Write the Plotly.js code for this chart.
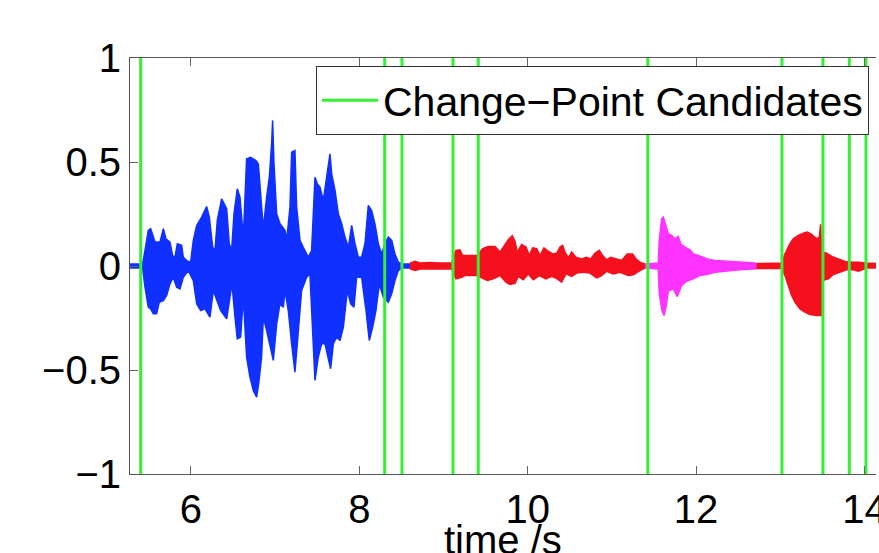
<!DOCTYPE html>
<html>
<head>
<meta charset="utf-8">
<script src="https://cdn.plot.ly/plotly-3.0.1.min.js"></script>
<style>
  html, body { margin: 0; padding: 0; overflow: hidden; background: #fff; }
  #chart { width: 879px; height: 553px; }
</style>
</head>
<body>
<div id="chart"></div>
<script>
// Change-point candidate times (s)
const changePoints = [5.404, 8.302, 8.507, 9.113, 9.413, 11.427, 13.02, 13.507, 13.82, 14.018];
const xTicks = [6, 8, 10, 12, 14];
const yTicks = [-1, -0.5, 0, 0.5, 1];
const xLabel = 'time /s';
const legendLabel = 'Change\u2212Point Candidates';

// Segment 1 (blue) envelope
const blueUpT = [5.277, 5.427, 5.455, 5.494, 5.522, 5.546, 5.574, 5.633, 5.673, 5.704,
                 5.752, 5.783, 5.811, 5.839, 5.890, 5.910, 5.950, 5.997, 6.029, 6.069,
                 6.128, 6.187, 6.219, 6.259, 6.286, 6.314, 6.365, 6.425, 6.456, 6.484,
                 6.512, 6.551, 6.583, 6.623, 6.662, 6.710, 6.773, 6.801, 6.829, 6.860,
                 6.900, 6.932, 6.959, 6.971, 6.987, 7.019, 7.058, 7.090, 7.118, 7.138,
                 7.177, 7.197, 7.236, 7.256, 7.296, 7.335, 7.395, 7.434, 7.474, 7.502,
                 7.533, 7.573, 7.613, 7.652, 7.672, 7.712, 7.751, 7.791, 7.830, 7.870,
                 7.910, 7.949, 7.989, 8.028, 8.068, 8.107, 8.147, 8.186, 8.226, 8.266,
                 8.305, 8.345, 8.385, 8.424, 8.464, 8.503, 8.602];
const blueUpV = [0.010, 0.010, 0.075, 0.171, 0.179, 0.147, 0.115, 0.115, 0.179, 0.131,
                 0.115, 0.050, 0.042, 0.107, 0.099, 0.042, 0.026, 0.018, 0.123, 0.195,
                 0.235, 0.286, 0.235, 0.090, 0.074, 0.219, 0.323, 0.275, 0.107, 0.074,
                 0.251, 0.371, 0.331, 0.139, 0.515, 0.523, 0.507, 0.491, 0.331, 0.180,
                 0.331, 0.427, 0.587, 0.700, 0.491, 0.251, 0.203, 0.187, 0.171, 0.123,
                 0.283, 0.547, 0.555, 0.283, 0.123, 0.090, 0.042, 0.074, 0.427, 0.395,
                 0.379, 0.315, 0.443, 0.539, 0.443, 0.363, 0.251, 0.203, 0.139, 0.090,
                 0.195, 0.107, 0.042, 0.042, 0.107, 0.291, 0.267, 0.203, 0.107, 0.058,
                 0.107, 0.139, 0.123, 0.058, 0.018, 0.010, 0.010];
const blueLoT = [5.277, 5.427, 5.455, 5.494, 5.522, 5.554, 5.593, 5.625, 5.673, 5.712,
                 5.752, 5.791, 5.831, 5.871, 5.910, 5.970, 6.029, 6.069, 6.116, 6.167,
                 6.227, 6.266, 6.306, 6.353, 6.425, 6.464, 6.488, 6.524, 6.551, 6.591,
                 6.623, 6.662, 6.702, 6.741, 6.781, 6.805, 6.840, 6.860, 6.900, 6.940,
                 6.979, 7.019, 7.058, 7.098, 7.118, 7.157, 7.197, 7.236, 7.264, 7.315,
                 7.375, 7.414, 7.434, 7.474, 7.513, 7.553, 7.593, 7.632, 7.660, 7.692,
                 7.731, 7.771, 7.811, 7.858, 7.898, 7.937, 7.969, 8.028, 8.080, 8.119,
                 8.159, 8.198, 8.238, 8.285, 8.345, 8.385, 8.424, 8.464, 8.503, 8.602];
const blueLoV = [-0.010, -0.010, -0.102, -0.198, -0.206, -0.230, -0.230, -0.174, -0.166, -0.142,
                 -0.086, -0.054, -0.102, -0.110, -0.054, -0.022, -0.070, -0.182, -0.214, -0.206,
                 -0.246, -0.118, -0.158, -0.214, -0.254, -0.150, -0.086, -0.246, -0.350, -0.342,
                 -0.150, -0.438, -0.534, -0.598, -0.630, -0.566, -0.438, -0.246, -0.310, -0.374,
                 -0.454, -0.278, -0.182, -0.198, -0.118, -0.214, -0.374, -0.510, -0.374, -0.118,
                 -0.054, -0.038, -0.150, -0.550, -0.438, -0.374, -0.374, -0.438, -0.494, -0.374,
                 -0.342, -0.358, -0.294, -0.118, -0.182, -0.198, -0.054, -0.054, -0.214, -0.358,
                 -0.294, -0.214, -0.086, -0.150, -0.174, -0.134, -0.070, -0.022, -0.010, -0.010];

// Segment 2 (red) envelope
const red1UpT = [8.602, 8.661, 8.721, 8.840, 8.958, 9.097, 9.148, 9.196, 9.228, 9.394,
                 9.434, 9.465, 9.532, 9.612, 9.671, 9.719, 9.770, 9.817, 9.849, 9.877,
                 9.928, 9.980, 10.019, 10.059, 10.107, 10.146, 10.194, 10.245, 10.297, 10.344,
                 10.384, 10.415, 10.443, 10.483, 10.522, 10.574, 10.641, 10.700, 10.748, 10.799,
                 10.851, 10.890, 10.938, 10.985, 11.057, 11.116, 11.183, 11.247, 11.286, 11.334,
                 11.393];
const red1UpV = [0.014, 0.023, 0.015, 0.017, 0.014, 0.014, 0.075, 0.078, 0.050, 0.050,
                 0.067, 0.083, 0.094, 0.094, 0.067, 0.099, 0.126, 0.145, 0.119, 0.067,
                 0.103, 0.091, 0.050, 0.087, 0.083, 0.050, 0.087, 0.071, 0.058, 0.061,
                 0.091, 0.099, 0.067, 0.039, 0.067, 0.042, 0.034, 0.042, 0.034, 0.061,
                 0.075, 0.050, 0.030, 0.042, 0.034, 0.026, 0.058, 0.058, 0.034, 0.018,
                 0.010];
const red1LoT = [8.602, 8.661, 8.721, 8.958, 9.097, 9.148, 9.216, 9.255, 9.394, 9.453,
                 9.521, 9.592, 9.671, 9.742, 9.790, 9.849, 9.889, 9.948, 10.007, 10.067,
                 10.138, 10.217, 10.285, 10.352, 10.403, 10.455, 10.522, 10.582, 10.661, 10.740,
                 10.819, 10.879, 10.938, 11.017, 11.096, 11.195, 11.255, 11.334, 11.393];
const red1LoV = [-0.014, -0.022, -0.015, -0.014, -0.014, -0.062, -0.054, -0.046, -0.046, -0.057,
                 -0.070, -0.062, -0.046, -0.078, -0.089, -0.083, -0.050, -0.066, -0.038, -0.066,
                 -0.046, -0.062, -0.050, -0.062, -0.078, -0.038, -0.050, -0.034, -0.030, -0.034,
                 -0.057, -0.046, -0.025, -0.038, -0.030, -0.046, -0.042, -0.022, -0.010];

// Segment 3 (magenta) envelope
const magUpT = [11.393, 11.551, 11.563, 11.591, 11.611, 11.635, 11.670, 11.710, 11.749, 11.789,
                11.817, 11.868, 11.927, 11.967, 12.026, 12.086, 12.145, 12.225, 12.363, 12.521,
                12.699, 12.719];
const magUpV = [0.010, 0.014, 0.123, 0.227, 0.235, 0.200, 0.155, 0.147, 0.131, 0.142,
                0.107, 0.091, 0.078, 0.059, 0.051, 0.042, 0.033, 0.026, 0.023, 0.018,
                0.014, 0.010];
const magLoT = [11.393, 11.551, 11.563, 11.595, 11.619, 11.643, 11.670, 11.730, 11.777, 11.829,
                11.888, 11.967, 12.046, 12.125, 12.225, 12.363, 12.521, 12.719];
const magLoV = [-0.010, -0.014, -0.134, -0.214, -0.238, -0.198, -0.121, -0.110, -0.147, -0.094,
                -0.073, -0.062, -0.046, -0.041, -0.030, -0.025, -0.018, -0.014];

// Segment 4 (red) envelope
const red2UpT = [12.719, 13.016, 13.056, 13.083, 13.115, 13.155, 13.214, 13.274, 13.321, 13.373,
                 13.432, 13.464, 13.479, 13.495, 13.551, 13.610, 13.689, 13.769, 13.867, 13.927,
                 14.026, 14.250];
const red2UpV = [0.012, 0.014, 0.059, 0.083, 0.107, 0.131, 0.147, 0.158, 0.163, 0.152,
                 0.131, 0.139, 0.200, 0.067, 0.062, 0.046, 0.035, 0.022, 0.018, 0.018,
                 0.014, 0.010];
const red2LoT = [12.719, 13.016, 13.056, 13.095, 13.135, 13.174, 13.234, 13.293, 13.353, 13.432,
                 13.491, 13.503, 13.571, 13.630, 13.709, 13.788, 13.867, 13.927, 14.026, 14.250];
const red2LoV = [-0.012, -0.012, -0.046, -0.094, -0.142, -0.174, -0.206, -0.222, -0.233, -0.238,
                 -0.238, -0.070, -0.062, -0.041, -0.030, -0.018, -0.018, -0.025, -0.010, -0.010];

const BLUE = '#1030ff', RED = '#f5101e', MAGENTA = '#ff33ff', GREEN = '#33f033';

function band(upT, upV, loT, loV, color) {
  return {
    type: 'scatter', mode: 'lines',
    x: upT.concat(loT.slice().reverse()),
    y: upV.concat(loV.slice().reverse()),
    fill: 'toself', fillcolor: color,
    line: { color: color, width: 1.5 },
    showlegend: false, hoverinfo: 'skip'
  };
}

const traces = [
  band(blueUpT, blueUpV, blueLoT, blueLoV, BLUE),
  band(red1UpT, red1UpV, red1LoT, red1LoV, RED),
  band(magUpT, magUpV, magLoT, magLoV, MAGENTA),
  band(red2UpT, red2UpV, red2LoT, red2LoV, RED),
  {
    type: 'scatter', mode: 'lines',
    name: legendLabel,
    x: changePoints.flatMap(v => [v, v, null]),
    y: changePoints.flatMap(() => [yTicks[0], yTicks[yTicks.length - 1], null]),
    line: { color: GREEN, width: 3 },
    showlegend: true, hoverinfo: 'skip'
  }
];

const FONT = 'Liberation Sans, Arial, sans-serif';
const axisCommon = {
  showgrid: false, zeroline: false,
  showline: true, linecolor: '#555', linewidth: 1,
  ticks: 'inside', ticklen: 8, tickwidth: 1, tickcolor: '#666',
  tickfont: { family: FONT, size: 40, color: '#000' }
};

const layout = {
  width: 879, height: 553,
  margin: { l: 130, r: 3, t: 58, b: 79 },
  paper_bgcolor: '#fff', plot_bgcolor: '#fff',
  font: { family: FONT, size: 40, color: '#000' },
  xaxis: Object.assign({}, axisCommon, {
    range: [5.277, 14.137],
    tickvals: xTicks,
    mirror: 'ticks',
    ticklabeloverflow: 'allow'
  }),
  yaxis: Object.assign({}, axisCommon, {
    range: [-1, 1],
    tickvals: yTicks,
    mirror: false
  }),
  annotations: [{
    text: xLabel, xref: 'paper', yref: 'paper',
    x: 0.5, y: -0.159, xanchor: 'center', yanchor: 'middle',
    showarrow: false, font: { family: FONT, size: 40, color: '#000' }
  }],
  legend: {
    x: 0.2493, y: 0.9808, xanchor: 'left', yanchor: 'top',
    bgcolor: '#fff', bordercolor: '#333', borderwidth: 1,
    itemwidth: 56,
    font: { family: FONT, size: 41, color: '#000' }
  },
  showlegend: true
};

Plotly.newPlot('chart', traces, layout, { staticPlot: true, displayModeBar: false });
</script>
</body>
</html>
